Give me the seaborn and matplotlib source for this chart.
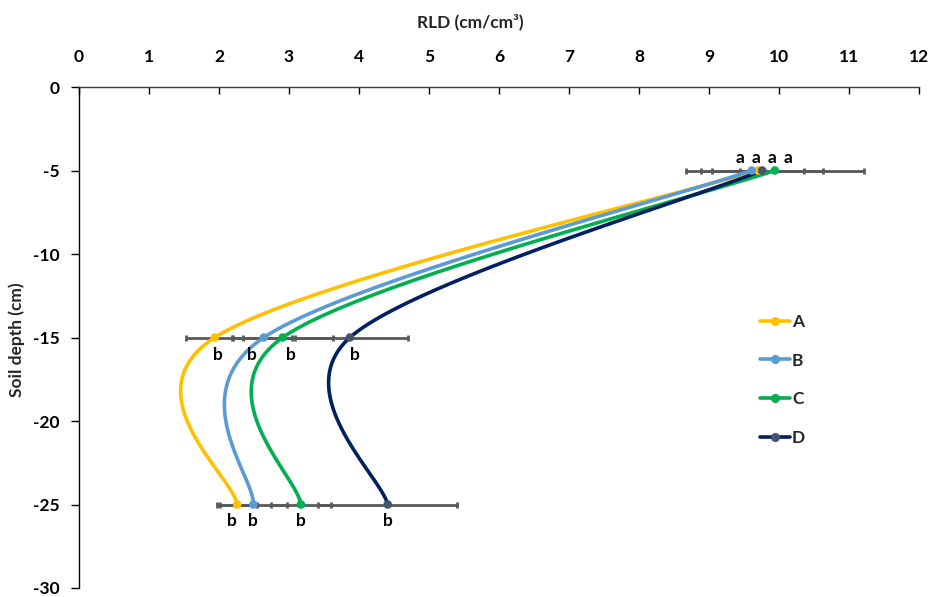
import numpy as np
import pandas as pd
import matplotlib
matplotlib.use("Agg")
import matplotlib.pyplot as plt
from matplotlib.lines import Line2D
import seaborn as sns

# Soil depth (cm) and root length density (cm/cm3) per treatment
depth = [-5, -15, -25]
rld_a = [9.70, 1.94, 2.26]
rld_b = [9.61, 2.64, 2.49]
rld_c = [9.94, 2.91, 3.17]
rld_d = [9.76, 3.87, 4.41]
# Horizontal error bars (RLD)
err_a = [0.66, 0.41, 0.29]
err_b = [0.17, 0.44, 0.48]
err_c = [1.27, 0.72, 0.43]
err_d = [0.87, 0.83, 0.99]
# Significance letters per depth
letters = ["a", "b", "b"]
treatments = ["A", "B", "C", "D"]
x_ticks = list(range(0, 13))
y_ticks = [0, -5, -10, -15, -20, -25, -30]

line_colors = ["#FFC000", "#5B9BD5", "#00B050", "#002060"]
marker_colors = ["#FFC000", "#5B9BD5", "#00B050", "#44546A"]
# Letter offsets (pixels) relative to each point, per depth and treatment
label_offsets = {
    "A": [(-18, 13), (3, -17), (-5, -16)],
    "B": [(4, 13), (-12, -17), (0, -16)],
    "C": [(13, 13), (8, -17), (0, -16)],
    "D": [(10, 13), (5, -17), (0, -16)],
}

series = {"A": (rld_a, err_a), "B": (rld_b, err_b), "C": (rld_c, err_c), "D": (rld_d, err_d)}

sns.set_theme(style="white")
plt.rcParams["font.family"] = ["Lato", "DejaVu Sans"]
plt.rcParams["font.weight"] = "bold"
plt.rcParams["axes.unicode_minus"] = False

fig = plt.figure(figsize=(9.31, 5.97), dpi=100)
W, H = 931, 597
ax = fig.add_axes([79 / W, 1 - 588 / H, 840 / W, 501 / H])
ax.set_xlim(0, 12)
ax.set_ylim(-30, 0)


def smooth_curve(ax, xs, ys, n=60):
    """Excel-style smoothed line: cubic Bezier segments built in display space."""
    pts = ax.transData.transform(np.column_stack([xs, ys]))
    m = len(pts)
    out = []
    for i in range(m - 1):
        p0 = pts[max(i - 1, 0)]
        p1 = pts[i]
        p2 = pts[i + 1]
        p3 = pts[min(i + 2, m - 1)]
        c1 = p1 + (p2 - p0) / 6.0
        c2 = p2 - (p3 - p1) / 6.0
        t = np.linspace(0, 1, n)[:, None]
        seg = ((1 - t) ** 3) * p1 + 3 * ((1 - t) ** 2) * t * c1 + 3 * (1 - t) * t ** 2 * c2 + t ** 3 * p2
        out.append(seg if i == 0 else seg[1:])
    out = np.vstack(out)
    data = ax.transData.inverted().transform(out)
    return data[:, 0], data[:, 1]


# Error bars behind the curves
for name, (vals, errs) in series.items():
    ax.errorbar(vals, depth, xerr=errs, fmt="none", ecolor="#595959",
                elinewidth=2.0, capsize=2.5, capthick=2.0, zorder=1)

for k, name in enumerate(treatments):
    vals, errs = series[name]
    sx, sy = smooth_curve(ax, vals, depth)
    df = pd.DataFrame({"RLD": sx, "depth": sy})
    sns.lineplot(data=df, x="RLD", y="depth", sort=False, estimator=None,
                 color=line_colors[k], lw=2.6, ax=ax, zorder=3)
    pts = pd.DataFrame({"RLD": vals, "depth": depth})
    sns.scatterplot(data=pts, x="RLD", y="depth", color=marker_colors[k], s=38,
                    edgecolor="none", ax=ax, zorder=4)
    for j in range(len(depth)):
        dx, dy = label_offsets[name][j]
        ax.annotate(letters[j], (vals[j], depth[j]), xytext=(dx, dy),
                    textcoords="offset pixels", ha="center", va="center",
                    fontsize=12.5, fontweight="bold", color="black", zorder=5)

# Axes styling: x axis along the top at depth 0
ax.set_xticks(x_ticks)
ax.set_yticks(y_ticks)
ax.set_xlabel("")
ax.set_ylabel("")
for side in ["right", "bottom"]:
    ax.spines[side].set_visible(False)
ax.spines["top"].set_color("#404040")
ax.spines["left"].set_color("black")
ax.spines["top"].set_linewidth(1.0)
ax.spines["left"].set_linewidth(1.0)
ax.tick_params(axis="x", top=True, labeltop=True, bottom=False, labelbottom=False,
               direction="in", length=5, width=1, pad=16, labelsize=12.5, colors="black")
ax.tick_params(axis="y", left=True, direction="out", length=6, width=1, pad=8,
               labelsize=12.5, colors="black")
for lab in ax.get_xticklabels() + ax.get_yticklabels():
    lab.set_fontweight("bold")

fig.text(470 / W, 1 - 22 / H, "RLD (cm/cm³)", ha="center", va="center",
         fontsize=12.5, fontweight="bold")
fig.text(17 / W, 1 - 340 / H, "Soil depth (cm)", ha="center", va="center",
         rotation=90, fontsize=12.5, fontweight="bold")

handles = [Line2D([0], [0], color=line_colors[k], lw=2.6, marker="o", markersize=5.5,
                  markerfacecolor=marker_colors[k], markeredgecolor=marker_colors[k])
           for k in range(4)]
leg = ax.legend(handles, treatments, loc="upper left", bbox_to_anchor=(760 / W, 1 - 314 / H),
                bbox_transform=fig.transFigure, frameon=False, handlelength=1.7,
                handletextpad=0.15, labelspacing=1.3, borderpad=0, borderaxespad=0,
                prop={"weight": "bold", "size": 12.5})

fig.savefig("out.png", dpi=100)
